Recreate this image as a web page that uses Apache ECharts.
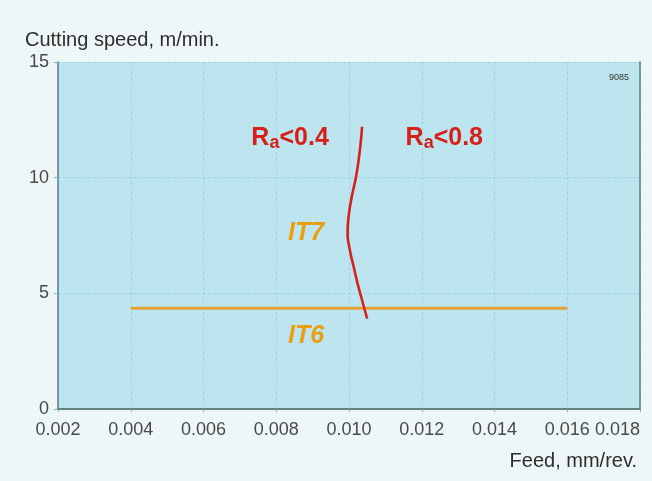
<!DOCTYPE html>
<html>
<head>
<meta charset="utf-8">
<script src="https://cdn.jsdelivr.net/npm/echarts@6/dist/echarts.min.js"></script>
<style>
html,body{margin:0;padding:0;background:#eef7f7;}
#chart{width:652px;height:481px;}
</style>
</head>
<body>
<div id="chart"></div>
<script>
// x ticks (feed, mm/rev) and y ticks (cutting speed, m/min)
var xTicks = [0.002, 0.004, 0.006, 0.008, 0.010, 0.012, 0.014, 0.016, 0.018];
var yTicks = [0, 5, 10, 15];

// Ra boundary curve (feed, speed)
var raFeed  = [0.01036, 0.0103, 0.0102, 0.01006, 0.00998, 0.00996, 0.01002, 0.01012, 0.01024, 0.01036, 0.0105];
var raSpeed = [12.2, 11.2, 10.1, 9.05, 8.2, 7.6, 6.9, 6.2, 5.4, 4.7, 3.9];

// IT boundary line
var itFeed  = [0.004, 0.016];
var itSpeed = [4.35, 4.35];

// region labels
var labelText  = ['Ra<0.4', 'Ra<0.8', 'IT7', 'IT6'];
var labelFeed  = [0.00838, 0.01262, 0.00882, 0.00882];
var labelSpeed = [11.7, 11.7, 7.6, 3.15];

var chart = echarts.init(document.getElementById('chart'));

function pairs(a, b){ return a.map(function(v,i){ return [v, b[i]]; }); }

var raLabels = [], itLabels = [];
labelText.forEach(function(t, i){
  var item = {value:[labelFeed[i], labelSpeed[i]], name:t};
  if (t.indexOf('Ra') === 0) raLabels.push(item); else itLabels.push(item);
});

var font = '"Liberation Sans", Arial, sans-serif';
var red = '#d6201a', orange = '#eb9d12', border = '#5e7c7e';

function nearest(list, v){
  return list.reduce(function(p,c){return Math.abs(c-v)<Math.abs(p-v)?c:p;});
}

chart.setOption({
  backgroundColor: '#eef7f7',
  animation: false,
  title: [
    {text: 'Cutting speed, m/min.', left: 20, top: 25,
     textStyle: {fontFamily: font, fontSize: 20, fontWeight: 'normal', color: '#2e2e2e'}},
    {text: 'Feed, mm/rev.', right: 10, top: 446,
     textStyle: {fontFamily: font, fontSize: 20, fontWeight: 'normal', color: '#2e2e2e'}},
    {text: '9085', right: 18, top: 68,
     textStyle: {fontFamily: font, fontSize: 9, fontWeight: 'normal', color: '#333'}}
  ],
  grid: {left: 58, right: 12, top: 62, bottom: 72, show: true,
         backgroundColor: '#bde5ef', borderColor: border, borderWidth: 0},
  xAxis: [{
    type: 'value', min: 0.002, max: 0.018, interval: 0.002,
    axisLine: {show: true, lineStyle: {color: border, width: 1.5}},
    axisTick: {show: true, length: 3, lineStyle: {color: '#8aa'}},
    axisLabel: {fontFamily: font, fontSize: 18, color: '#4a4a4a', margin: 12,
                showMaxLabel: true, showMinLabel: true, alignMaxLabel: 'right',
                formatter: function(v){ return nearest(xTicks, v).toFixed(3); }},
    splitLine: {show: true, lineStyle: {color: '#9fd2e4', type: [3,2], width: 1}}
  }, {
    type: 'value', position: 'top', min: 0.002, max: 0.018, interval: 0.002,
    axisLine: {show: true, lineStyle: {color: border, width: 1.5}},
    axisTick: {show: false}, axisLabel: {show: false}, splitLine: {show: false}
  }],
  yAxis: [{
    type: 'value', min: 0, max: 15, interval: 5,
    axisLine: {show: true, lineStyle: {color: border, width: 1.5}},
    axisTick: {show: true, length: 4, lineStyle: {color: '#8aa'}},
    axisLabel: {fontFamily: font, fontSize: 18, color: '#4a4a4a', margin: 9,
                formatter: function(v){ return String(nearest(yTicks, v)); }},
    splitLine: {show: true, lineStyle: {color: '#9fd2e4', type: [3,2], width: 1}}
  }, {
    type: 'value', position: 'right', min: 0, max: 15, interval: 5,
    axisLine: {show: true, lineStyle: {color: border, width: 1.5}},
    axisTick: {show: false}, axisLabel: {show: false}, splitLine: {show: false}
  }],
  series: [
    {type: 'line', data: pairs(itFeed, itSpeed), symbol: 'none',
     lineStyle: {color: '#e2a236', width: 3}, z: 3},
    {type: 'line', data: pairs(raFeed, raSpeed), symbol: 'none', smooth: 0.5,
     lineStyle: {color: red, width: 2.6}, z: 4},
    {type: 'scatter', data: raLabels, symbolSize: 0, silent: true, z: 5,
     itemStyle: {opacity: 1},
     label: {show: true, position: 'inside', opacity: 1, formatter: function(p){
        return '{r|R}{a|a}{r|' + p.name.slice(2) + '}'; },
       rich: {
         r: {fontFamily: font, fontSize: 25, fontWeight: 'bold', color: red},
         a: {fontFamily: font, fontSize: 18, fontWeight: 'bold', color: red, verticalAlign: 'bottom', padding: [10,0,0,0]}
       }}},
    {type: 'scatter', data: itLabels, symbolSize: 0, silent: true, z: 5,
     itemStyle: {opacity: 1},
     label: {show: true, position: 'inside', opacity: 1, formatter: '{b}',
       fontFamily: font, fontSize: 25, fontWeight: 'bold', fontStyle: 'italic', color: orange}}
  ]
});
</script>
</body>
</html>
